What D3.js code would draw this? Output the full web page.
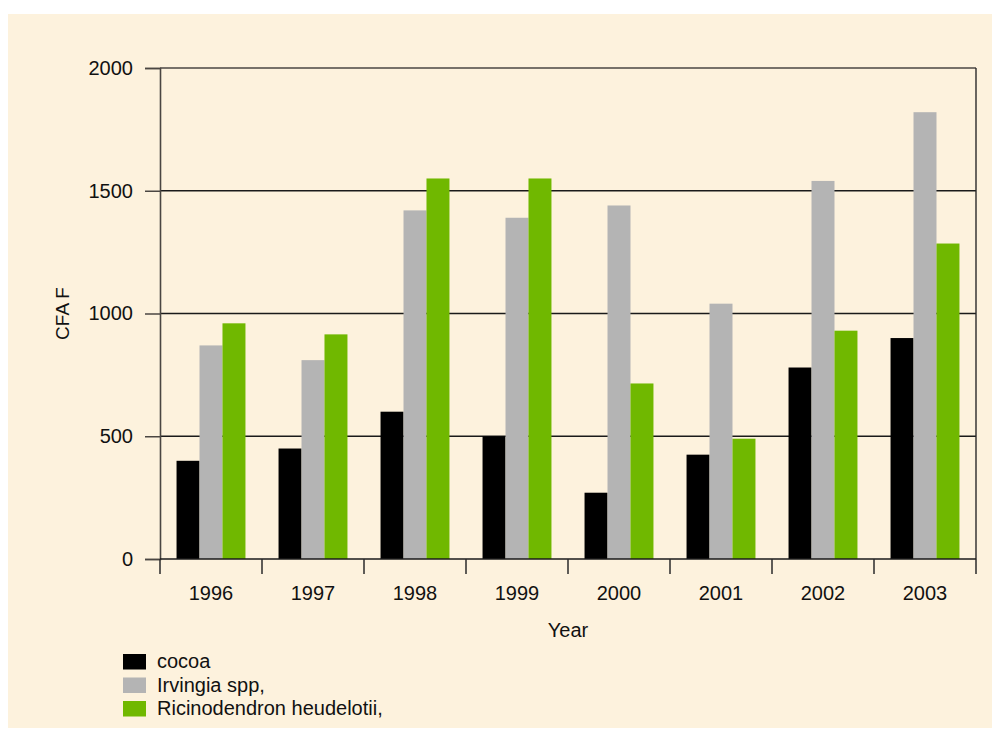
<!DOCTYPE html>
<html>
<head>
<meta charset="utf-8">
<script src="https://cdn.jsdelivr.net/npm/d3@7"></script>
<style>
  html, body { margin: 0; padding: 0; background: #ffffff; }
  svg { display: block; }
  text { font-family: "Liberation Sans", Arial, Helvetica, sans-serif; fill: #111; }
</style>
</head>
<body>
<svg id="chart" width="998" height="729"></svg>
<script>
// Prices in CFA F per year
const years = ["1996", "1997", "1998", "1999", "2000", "2001", "2002", "2003"];
const seriesNames = ["cocoa", "Irvingia spp,", "Ricinodendron heudelotii,"];
const cocoa = [400, 450, 600, 500, 270, 425, 780, 900];
const irvingia = [870, 810, 1420, 1390, 1440, 1040, 1540, 1820];
const ricinodendron = [960, 915, 1550, 1550, 715, 490, 930, 1285];
const yTicks = [0, 500, 1000, 1500, 2000];
const colors = ["#000000", "#b4b4b4", "#70b800"];

const seriesValues = [cocoa, irvingia, ricinodendron];

const svg = d3.select("#chart");
const margin = { left: 160, right: 22, top: 68, bottom: 170 };
const W = 998, H = 729;
const plotW = W - margin.left - margin.right;
const plotH = H - margin.top - margin.bottom;

// panel background
svg.append("rect")
  .attr("x", 8).attr("y", 14)
  .attr("width", 984).attr("height", 714)
  .attr("fill", "#fdf2dd");

const g = svg.append("g").attr("transform", `translate(${margin.left},${margin.top})`);

const x = d3.scaleBand().domain(years).range([0, plotW]).paddingInner(0).paddingOuter(0);
const inner = d3.scaleBand().domain(d3.range(seriesNames.length))
  .range([0, x.bandwidth()]).paddingOuter(0.72).paddingInner(0);
const y = d3.scaleLinear().domain([0, 2000]).range([plotH, 0]);

// horizontal gridlines
g.append("g").selectAll("line")
  .data(yTicks.filter(t => t > 0 && t < 2000))
  .join("line")
  .attr("x1", 0).attr("x2", plotW)
  .attr("y1", d => y(d)).attr("y2", d => y(d))
  .attr("stroke", "#1a1a1a").attr("stroke-width", 1.4);

// bars
const groups = g.append("g").selectAll("g")
  .data(years)
  .join("g")
  .attr("transform", d => `translate(${x(d)},0)`);

groups.selectAll("rect")
  .data((d, i) => seriesValues.map((vals, s) => ({ s, v: vals[i] })))
  .join("rect")
  .attr("x", d => inner(d.s))
  .attr("width", inner.bandwidth())
  .attr("y", d => y(d.v))
  .attr("height", d => y(0) - y(d.v))
  .attr("fill", d => colors[d.s]);

// frame: top and right
g.append("line").attr("x1", 0).attr("x2", plotW).attr("y1", 0).attr("y2", 0)
  .attr("stroke", "#4a4642").attr("stroke-width", 1.5);
g.append("line").attr("x1", plotW).attr("x2", plotW).attr("y1", 0).attr("y2", plotH)
  .attr("stroke", "#2a2a2a").attr("stroke-width", 1.4);

// y axis
const yAxis = g.append("g")
  .call(d3.axisLeft(y).tickValues(yTicks).tickSize(15).tickPadding(12).tickFormat(d3.format("d")));
yAxis.select(".domain").attr("stroke", "#4a4642").attr("stroke-width", 1.6);
yAxis.selectAll(".tick line").attr("stroke", "#4a4642").attr("stroke-width", 1.5);
yAxis.selectAll(".tick text").style("font-size", "20px").attr("fill", "#111");

// zero baseline
g.append("line").attr("x1", 0).attr("x2", plotW).attr("y1", y(0)).attr("y2", y(0))
  .attr("stroke", "#1a1a1a").attr("stroke-width", 1.5);

// x axis with ticks at the category boundaries
const xAxis = g.append("g").attr("transform", `translate(0,${plotH})`)
  .call(d3.axisBottom(x).tickSize(0).tickPadding(27));
xAxis.select(".domain").remove();
xAxis.selectAll(".tick text").style("font-size", "20px").attr("fill", "#111");
const boundaries = years.map(d => x(d)).concat([plotW]);
xAxis.append("g").selectAll("line")
  .data(boundaries)
  .join("line")
  .attr("x1", d => d).attr("x2", d => d)
  .attr("y1", 0).attr("y2", 15)
  .attr("stroke", "#2a2a2a").attr("stroke-width", 1.5);

// axis titles
svg.append("text")
  .attr("x", margin.left + plotW / 2).attr("y", 637)
  .attr("text-anchor", "middle").style("font-size", "20px")
  .text("Year");
svg.append("text")
  .attr("transform", `translate(69,${margin.top + plotH / 2}) rotate(-90)`)
  .attr("text-anchor", "middle").style("font-size", "19px")
  .text("CFA F");

// legend
const legend = svg.append("g").attr("transform", "translate(123,654)");
const item = legend.selectAll("g").data(seriesNames).join("g")
  .attr("transform", (d, i) => `translate(0,${i * 23.5})`);
item.append("rect").attr("width", 23).attr("height", 15.5)
  .attr("fill", (d, i) => colors[i]);
item.append("text").attr("x", 34).attr("y", 14)
  .style("font-size", "20px")
  .text(d => d);
</script>
</body>
</html>
